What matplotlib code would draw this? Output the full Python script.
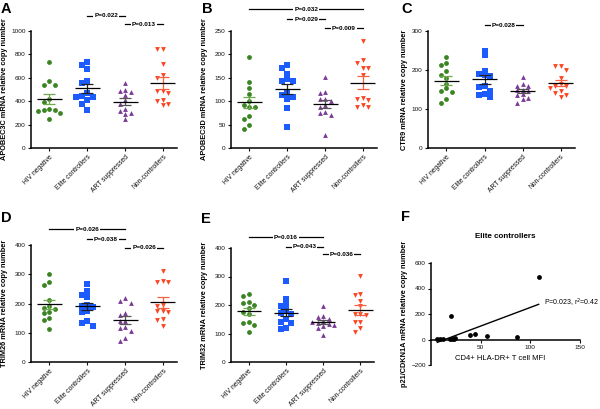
import matplotlib
matplotlib.use('Agg')
import matplotlib.pyplot as plt
import numpy as np
from matplotlib.transforms import blended_transform_factory

plt.rcParams['font.family'] = ['Liberation Sans', 'DejaVu Sans']

groups = ['HIV negative', 'Elite controllers', 'ART suppressed', 'Non-controllers']
colors = ['#3b8424', '#1c5cff', '#7b3a97', '#fb4420']
errcolors = ['#6fa84e', '#222222', '#555555', '#f56040']
markers = ['o', 's', '^', 'v']

# Panel A: APOBEC3C
a3c_hiv = [738, 538, 538, 570, 416, 390, 330, 325, 319, 325, 296, 251]
a3c_ec = [707, 735, 672, 553, 570, 439, 433, 444, 410, 373, 325, 470]
a3c_art = [558, 500, 485, 480, 455, 410, 380, 330, 320, 300, 290, 250]
a3c_nc = [843, 843, 716, 625, 600, 470, 490, 490, 400, 410, 380, 370]
a3c_p = ['P=0.022', 'P=0.013']
a3c_pairs = [(1, 2), (2, 3)]

# Panel B: APOBEC3D
a3d_hiv = [194, 141, 128, 116, 100, 92, 88, 88, 68, 63, 50, 41]
a3d_ec = [177, 172, 158, 148, 143, 143, 117, 114, 109, 105, 86, 45]
a3d_art = [152, 119, 117, 105, 104, 100, 92, 88, 76, 75, 70, 27]
a3d_nc = [229, 188, 181, 172, 172, 156, 106, 104, 102, 92, 88, 87]
a3d_p = ['P=0.032', 'P=0.029', 'P=0.009']
a3d_pairs = [(0, 3), (1, 2), (2, 3)]

# Panel C: CTR9
ctr9_hiv = [234, 218, 212, 197, 187, 180, 165, 153, 145, 144, 125, 116]
ctr9_ec = [250, 238, 198, 190, 186, 185, 158, 156, 147, 138, 135, 131]
ctr9_art = [183, 165, 160, 158, 150, 148, 146, 138, 136, 127, 125, 116]
ctr9_nc = [211, 210, 200, 180, 165, 160, 158, 155, 145, 142, 135, 132]
ctr9_p = ['P=0.028']
ctr9_pairs = [(1, 2)]

# Panel D: TRIM26
trim26_hiv = [301, 272, 264, 212, 193, 186, 182, 172, 169, 150, 145, 113]
trim26_ec = [268, 242, 228, 222, 195, 190, 187, 175, 172, 139, 135, 124]
trim26_art = [218, 208, 203, 168, 160, 140, 140, 120, 116, 105, 83, 72]
trim26_nc = [310, 277, 273, 272, 195, 190, 175, 173, 170, 148, 142, 122]
trim26_p = ['P=0.026', 'P=0.038', 'P=0.026']
trim26_pairs = [(0, 2), (1, 2), (2, 3)]

# Panel E: TRIM32
trim32_hiv = [237, 232, 212, 207, 200, 190, 175, 168, 140, 137, 131, 104]
trim32_ec = [284, 221, 200, 197, 178, 173, 168, 150, 140, 136, 120, 116]
trim32_art = [195, 163, 158, 152, 145, 142, 138, 135, 130, 127, 120, 96]
trim32_nc = [301, 240, 235, 213, 195, 170, 165, 170, 140, 140, 118, 105]
trim32_p = ['P=0.016', 'P=0.043', 'P=0.036']
trim32_pairs = [(0, 2), (1, 2), (2, 3)]

# Panel F: p21 vs CD4+ HLA-DR+ MFI (elite controllers)
f_x = [6.4, 8.7, 12, 19, 21, 23, 24.5, 20, 39, 44.6, 56, 86.6, 108.4]
f_y = [5, 5, 5, 3, 5, 5, 10, 188, 37, 42, 26, 16, 494]
f_text = 'P=0.023, r$^2$=0.42'

W, H = 600, 409
fig = plt.figure(figsize=(6, 4.09), dpi=100)


def add_ax(x0, y0, x1, y1):
    return fig.add_axes([x0 / W, (H - y1) / H, (x1 - x0) / W, (y1 - y0) / H])


def swarm_offsets(vals, thr, step):
    vals = np.asarray(vals, float)
    order = np.argsort(-vals, kind='stable')
    off = np.zeros(len(vals))
    done = []
    for i in order:
        for k in [0, -1, 1, -2, 2, -3, 3]:
            c = k * step
            if all(abs(vals[i] - vals[j]) >= thr or abs(c - off[j]) >= step * 0.99 for j in done):
                off[i] = c
                break
        done.append(i)
    return off


def style_axes(ax):
    for s in ['top', 'right']:
        ax.spines[s].set_visible(False)
    for s in ['left', 'bottom']:
        ax.spines[s].set_linewidth(1.1)
    ax.tick_params(axis='both', length=2.3, width=0.8, labelsize=4.6, pad=1.5,
                   colors='#111111')


panels = [
    dict(letter='A', data=[a3c_hiv, a3c_ec, a3c_art, a3c_nc], ylabel='APOBEC3C mRNA relative copy number',
         ymax=1000, ystep=200, box=(31, 31, 177, 148), p=a3c_p, pairs=a3c_pairs,
         py=[1.131, 1.057], lpos=(1, 2), lab=8.5),
    dict(letter='B', data=[a3d_hiv, a3d_ec, a3d_art, a3d_nc], ylabel='APOBEC3D mRNA relative copy number',
         ymax=250, ystep=50, box=(231, 31, 377, 148), p=a3d_p, pairs=a3d_pairs,
         py=[1.188, 1.10, 1.023], lpos=(202, 2), lab=208.5),
    dict(letter='C', data=[ctr9_hiv, ctr9_ec, ctr9_art, ctr9_nc], ylabel='CTR9 mRNA relative copy number',
         ymax=300, ystep=100, box=(428, 31, 575, 148), p=ctr9_p, pairs=ctr9_pairs,
         py=[1.051], lpos=(401, 2), lab=407.5),
    dict(letter='D', data=[trim26_hiv, trim26_ec, trim26_art, trim26_nc], ylabel='TRIM26 mRNA relative copy number',
         ymax=400, ystep=100, box=(31, 245, 177, 362), p=trim26_p, pairs=trim26_pairs,
         py=[1.134, 1.051, 0.977], lpos=(1, 211), lab=8.5),
    dict(letter='E', data=[trim32_hiv, trim32_ec, trim32_art, trim32_nc], ylabel='TRIM32 mRNA relative copy number',
         ymax=400, ystep=100, box=(231, 248, 374, 362), p=trim32_p, pairs=trim32_pairs,
         py=[1.094, 1.009, 0.945], lpos=(201, 212), lab=208.5),
]

for pn in panels:
    x0, y0, x1, y1 = pn['box']
    ax = add_ax(x0, y0, x1, y1)
    ax.set_xlim(-0.48, 3.37)
    ax.set_ylim(0, pn['ymax'])
    hpx = y1 - y0
    thr = 4.6 / hpx * pn['ymax']
    for i, vals in enumerate(pn['data']):
        v = np.asarray(vals, float)
        off = swarm_offsets(v, thr, 0.145)
        ax.scatter(i + off, v, s=12 if markers[i] != 's' else 13, marker=markers[i],
                   color=colors[i], linewidths=0, zorder=3, clip_on=False)
        m = v.mean()
        sem = v.std(ddof=1) / np.sqrt(len(v))
        ax.errorbar([i], [m], yerr=[sem], fmt='none', ecolor=errcolors[i], elinewidth=0.9,
                    capsize=4.6, capthick=0.9, zorder=4)
        ax.hlines(m, i - 0.33, i + 0.33, color='black', lw=0.9, zorder=5)
    style_axes(ax)
    ax.set_xticks(range(4))
    ax.set_xticklabels(groups, rotation=45, ha='right', rotation_mode='anchor', fontsize=4.9)
    ax.set_yticks(np.arange(0, pn['ymax'] + 1, pn['ystep']))
    ax.set_ylabel(pn['ylabel'], fontsize=5.3, fontweight='bold')
    ax.yaxis.set_label_coords((pn['lab'] - x0) / (x1 - x0), 0.5)
    tr = blended_transform_factory(ax.transData, ax.transAxes)
    for (a, b), txt, yy in zip(pn['pairs'], pn['p'], pn['py']):
        ax.plot([a, b], [yy, yy], color='black', lw=0.9, transform=tr, clip_on=False, zorder=6)
        ax.text((a + b) / 2, yy, txt, transform=tr, ha='center', va='center', fontsize=4.6,
                fontweight='bold', zorder=7,
                bbox=dict(facecolor='white', edgecolor='none', pad=0.6))
    fig.text(pn['lpos'][0] / W, 1 - pn['lpos'][1] / H, pn['letter'], fontsize=10.5,
             fontweight='bold', ha='left', va='top')

# Panel F
axf = add_ax(431, 263, 580, 365)
axf.set_xlim(0, 150)
axf.set_ylim(-200, 600)
style_axes(axf)
axf.spines['bottom'].set_position(('data', 0))
axf.scatter(f_x, f_y, s=12, color='black', linewidths=0, zorder=3, clip_on=False)
slope, icpt = np.polyfit(f_x, f_y, 1)
xs = np.array([min(f_x), max(f_x)])
axf.plot(xs, slope * xs + icpt, color='black', lw=1.0, zorder=2)
axf.set_xticks([50, 100, 150])
axf.set_yticks([-200, 0, 200, 400, 600])
axf.set_ylabel('p21/CDKN1A mRNA relative copy number', fontsize=5.3, fontweight='bold')
axf.yaxis.set_label_coords((407.5 - 431) / 149, 0.5)
fig.text(505 / W, 1 - 237 / H, 'Elite controllers', fontsize=5.8, fontweight='bold',
         ha='center', va='center')
fig.text(500 / W, 1 - 358 / H, 'CD4+ HLA-DR+ T cell MFI', fontsize=5.5, ha='center', va='center')
fig.text(544 / W, 1 - 303 / H, f_text, fontsize=5.0, ha='left', va='center')
fig.text(401 / W, 1 - 210 / H, 'F', fontsize=10.5, fontweight='bold', ha='left', va='top')

fig.savefig('out.png', dpi=100)
